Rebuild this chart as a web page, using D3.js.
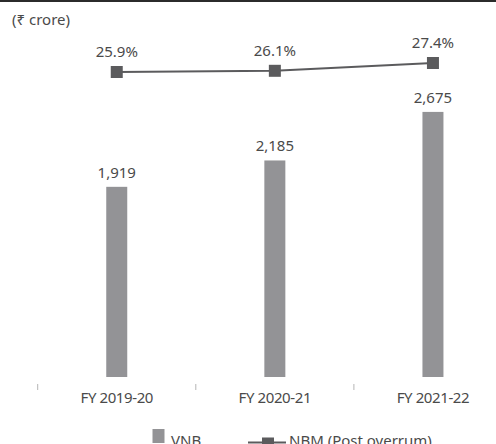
<!DOCTYPE html>
<html><head><meta charset="utf-8">
<script src="https://cdn.jsdelivr.net/npm/d3@7"></script>
<style>
html,body{margin:0;padding:0;background:#fff;}
svg{display:block;font-family:"Noto Sans",sans-serif;}
</style></head>
<body><svg id="c" width="496" height="444"></svg>
<script>
const categories = ["FY 2019-20", "FY 2020-21", "FY 2021-22"];
const vnb = [1919, 2185, 2675];
const vnbLabels = ["1,919", "2,185", "2,675"];
const nbm = [25.9, 26.1, 27.4];
const nbmLabels = ["25.9%", "26.1%", "27.4%"];
const unitLabel = "(₹ crore)";
const seriesNames = ["VNB", "NBM (Post overrum)"];

const svg = d3.select("#c");
const textColor = "#4a4a4a";
const barColor = "#939396";
const lineColor = "#5b5b5d";

// top rule
svg.append("line").attr("x1",0).attr("x2",496).attr("y1",1).attr("y2",1)
  .attr("stroke","#2b2b2b").attr("stroke-width",2);

svg.append("text").attr("x",12).attr("y",25).attr("fill",textColor)
  .attr("font-size",15).text(unitLabel);

const x = d3.scaleBand().domain(categories).range([37.7, 512]).padding(0);
const y = d3.scaleLinear().domain([0, 3000]).range([377, 79.7]);
const y2 = d3.scaleLinear().domain([25, 28]).range([77.4, 59.4]);
const cx = d => x(d) + x.bandwidth()/2;
const barW = 21;

// ticks
const axis = d3.axisBottom(x).tickSize(6).tickFormat("");
const gAx = svg.append("g").attr("transform","translate(0,384)").call(axis);
gAx.select(".domain").remove();
gAx.selectAll(".tick line").attr("stroke","#b5b5b5")
  .attr("transform", `translate(${-x.bandwidth()/2},0)`);

svg.append("g").selectAll("text").data(categories).join("text")
  .attr("x", d => cx(d)).attr("y", 402.5).attr("text-anchor","middle")
  .attr("font-size",15).attr("letter-spacing","-0.4").attr("fill",textColor).text(d => d);

// bars
svg.append("g").selectAll("rect").data(vnb).join("rect")
  .attr("x",(d,i)=>cx(categories[i]) - barW/2).attr("width",barW)
  .attr("y",d=>y(d)).attr("height",d=>y(0)-y(d)).attr("fill",barColor);

svg.append("g").selectAll("text").data(vnb).join("text")
  .attr("x",(d,i)=>cx(categories[i])).attr("y",d=>y(d)-9)
  .attr("text-anchor","middle").attr("font-size",15).attr("fill",textColor)
  .text((d,i)=>vnbLabels[i]);

// line
const line = d3.line().x((d,i)=>cx(categories[i])).y(d=>y2(d));
svg.append("path").datum(nbm).attr("d",line).attr("fill","none")
  .attr("stroke",lineColor).attr("stroke-width",2);
svg.append("g").selectAll("rect").data(nbm).join("rect")
  .attr("x",(d,i)=>cx(categories[i])-6).attr("y",d=>y2(d)-6)
  .attr("width",12).attr("height",12).attr("fill",lineColor);
svg.append("g").selectAll("text").data(nbm).join("text")
  .attr("x",(d,i)=>cx(categories[i])).attr("y",d=>y2(d)-15)
  .attr("text-anchor","middle").attr("font-size",15).attr("fill",textColor)
  .text((d,i)=>nbmLabels[i]);

// legend
const lg = svg.append("g");
lg.append("rect").attr("x",152.5).attr("y",429).attr("width",12).attr("height",14).attr("fill",barColor);
lg.append("text").attr("x",171).attr("y",446).attr("font-size",15).attr("fill",textColor).text(seriesNames[0]);
lg.append("line").attr("x1",248).attr("x2",286).attr("y1",442.5).attr("y2",442.5)
  .attr("stroke",lineColor).attr("stroke-width",2);
lg.append("rect").attr("x",262).attr("y",437.5).attr("width",12).attr("height",12).attr("fill",lineColor);
lg.append("text").attr("x",289).attr("y",446).attr("font-size",15).attr("fill",textColor).text(seriesNames[1]);
</script></body></html>
